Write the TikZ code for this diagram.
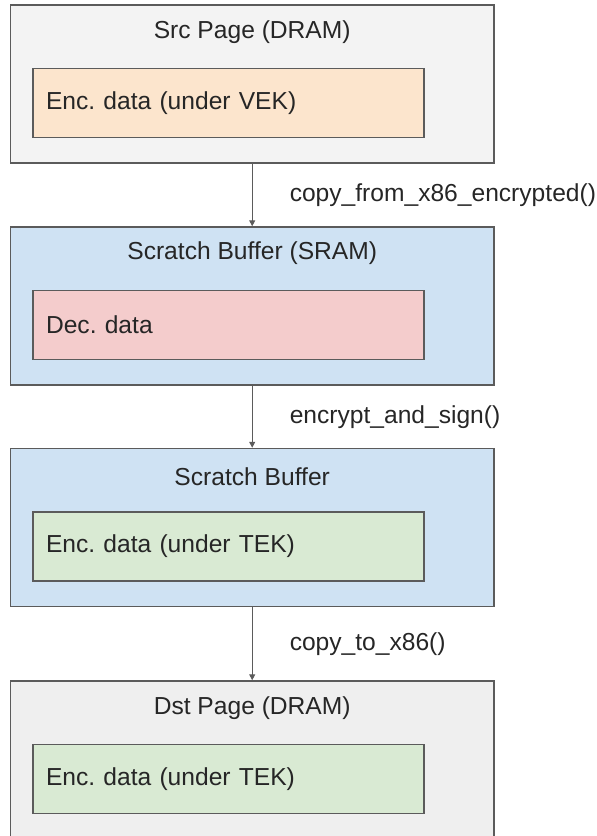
\documentclass[tikz,border=0pt]{standalone}
\usepackage{fontspec}
\setmainfont{Liberation Sans}
\frenchspacing
\usetikzlibrary{arrows.meta}
\definecolor{edgeGray}{HTML}{5B5B5B}
\definecolor{textGray}{HTML}{262626}
\definecolor{dramFill}{HTML}{F3F3F3}
\definecolor{dstFill}{HTML}{EFEFEF}
\definecolor{sramFill}{HTML}{CFE2F3}
\definecolor{vekFill}{HTML}{FCE5CD}
\definecolor{decFill}{HTML}{F4CCCC}
\definecolor{tekFill}{HTML}{D9EAD3}
\tikzset{
	outerbox/.style={draw=edgeGray, line width=1.5pt, minimum width=483.5pt, minimum height=158pt, inner sep=0pt},
	databox/.style={draw=edgeGray, line width=1.5pt, minimum width=391.3pt, minimum height=69pt, text width=364.7pt, inner xsep=13.3pt, inner ysep=0pt, align=left, text=textGray},
	boxtitle/.style={text=textGray, inner sep=0pt},
	calllabel/.style={text=textGray, inner sep=0pt, anchor=west, xshift=37pt},
	flow/.style={draw=edgeGray, line width=1.1pt, -{Triangle[length=6pt,width=6pt]}},
}
\begin{document}
\begin{tikzpicture}[x=1pt,y=-1pt,font=\fontsize{24.6}{29}\selectfont]
	\path[use as bounding box, clip] (0,0) rectangle (597,836);
	% source page
	\node[outerbox, fill=dramFill] (src) at (252.2,83.9) {};
	\node[boxtitle] (srcTitle) at ([yshift=-28pt]src.north) {Src Page (DRAM)};
	\node[databox, fill=vekFill] (srcData) at ([xshift=-23.8pt,yshift=-19pt]src.center) {Enc. data (under VEK)};
	% scratch buffer, plaintext
	\node[outerbox, fill=sramFill] (scrA) at (252.2,306) {};
	\node[boxtitle] (scrATitle) at ([yshift=-27pt]scrA.north) {Scratch Buffer (SRAM)};
	\node[databox, fill=decFill] (scrAData) at ([xshift=-23.8pt,yshift=-19pt]scrA.center) {Dec. data};
	% scratch buffer, re-encrypted
	\node[outerbox, fill=sramFill] (scrB) at (252.2,527.5) {};
	\node[boxtitle] (scrBTitle) at ([yshift=-29pt]scrB.north) {Scratch Buffer};
	\node[databox, fill=tekFill] (scrBData) at ([xshift=-23.8pt,yshift=-19pt]scrB.center) {Enc. data (under TEK)};
	% destination page
	\node[outerbox, fill=dstFill] (dst) at (252.2,760) {};
	\node[boxtitle] (dstTitle) at ([yshift=-28pt]dst.north) {Dst Page (DRAM)};
	\node[databox, fill=tekFill] (dstData) at ([xshift=-23.8pt,yshift=-19pt]dst.center) {Enc. data (under TEK)};

	\draw[flow] (src.south) -- (scrA.north) node[calllabel, midway] (lblA) {copy\_from\_x86\_encrypted()};
	\draw[flow] (scrA.south) -- (scrB.north) node[calllabel, midway] (lblB) {encrypt\_and\_sign()};
	\draw[flow] (scrB.south) -- (dst.north) node[calllabel, midway] (lblC) {copy\_to\_x86()};
\end{tikzpicture}
\end{document}
